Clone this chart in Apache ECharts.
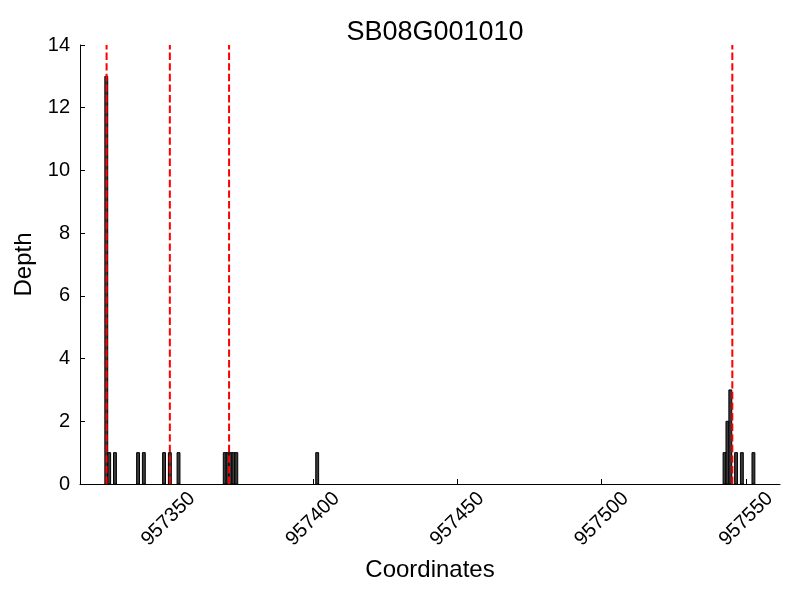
<!DOCTYPE html>
<html>
<head>
<meta charset="utf-8">
<script src="https://cdn.jsdelivr.net/npm/echarts@6/dist/echarts.min.js"></script>
<style>html,body{margin:0;padding:0;background:#fff}#c{width:800px;height:600px}</style>
</head>
<body>
<div id="c"></div>
<script>
const title = 'SB08G001010';
const coords = [957328, 957329, 957331, 957339, 957341, 957348, 957350, 957353,
  957369, 957370, 957371, 957372, 957373, 957401,
  957542, 957543, 957544, 957546, 957548, 957552];
const depths = [13, 1, 1, 1, 1, 1, 1, 1,
  1, 1, 1, 1, 1, 1,
  1, 2, 3, 1, 1, 1];
const redLines = [957328.6, 957350.5, 957371, 957545.2];
const xTicks = [957350, 957400, 957450, 957500, 957550];
const yTicks = [0, 2, 4, 6, 8, 10, 12, 14];

const FONT = 'Liberation Sans';
const chart = echarts.init(document.getElementById('c'), null, {renderer: 'canvas'});

const barData = coords.map((c, i) => [c, depths[i]]);
const series = [{
  type: 'custom',
  z: 2,
  data: barData,
  encode: {x: 0, y: 1},
  renderItem: function (params, api) {
    const x = api.value(0);
    const v = api.value(1);
    const p0 = api.coord([x, 0]);
    const p1 = api.coord([x + 1, v]);
    return {
      type: 'rect',
      shape: {x: p0[0], y: p1[1], width: p1[0] - p0[0], height: p0[1] - p1[1]},
      style: {fill: '#3a3a3a', stroke: '#000', lineWidth: 1}
    };
  }
}];
redLines.forEach(x => {
  series.push({
    type: 'line',
    z: 5,
    silent: true,
    symbol: 'none',
    data: [[x, 0], [x, 14]],
    lineStyle: {color: '#ff0000', width: 2, type: [7.4, 3.2]}
  });
});

chart.setOption({
  animation: false,
  backgroundColor: '#fff',
  title: {
    text: title,
    left: 430, top: 14, textAlign: 'center',
    textStyle: {fontFamily: FONT, fontSize: 27, fontWeight: 'normal', color: '#000'}
  },
  grid: {left: 80, right: 20, top: 45, bottom: 116, containLabel: false},
  xAxis: {
    type: 'value',
    min: 957319.4, max: 957561.7,
    name: 'Coordinates', nameLocation: 'middle', nameGap: 74,
    nameTextStyle: {fontFamily: FONT, fontSize: 24, color: '#000'},
    splitLine: {show: false},
    axisLine: {show: true, onZero: false, lineStyle: {color: '#000', width: 1}},
    axisTick: {show: true, inside: true, length: 5, customValues: xTicks, lineStyle: {color: '#000'}},
    axisLabel: {
      customValues: xTicks, rotate: 45, align: 'center', verticalAlign: 'middle', margin: 35,
      fontFamily: FONT, fontSize: 20, color: '#000',
      formatter: v => String(v)
    }
  },
  yAxis: {
    type: 'value', min: 0, max: 14, interval: 2,
    name: 'Depth', nameLocation: 'middle', nameGap: 42,
    nameTextStyle: {fontFamily: FONT, fontSize: 24, color: '#000'},
    splitLine: {show: false},
    axisLine: {show: true, lineStyle: {color: '#000', width: 1}},
    axisTick: {show: true, inside: true, length: 5, lineStyle: {color: '#000'}},
    axisLabel: {fontFamily: FONT, fontSize: 20, color: '#000', margin: 10}
  },
  series: series
});
</script>
</body>
</html>
